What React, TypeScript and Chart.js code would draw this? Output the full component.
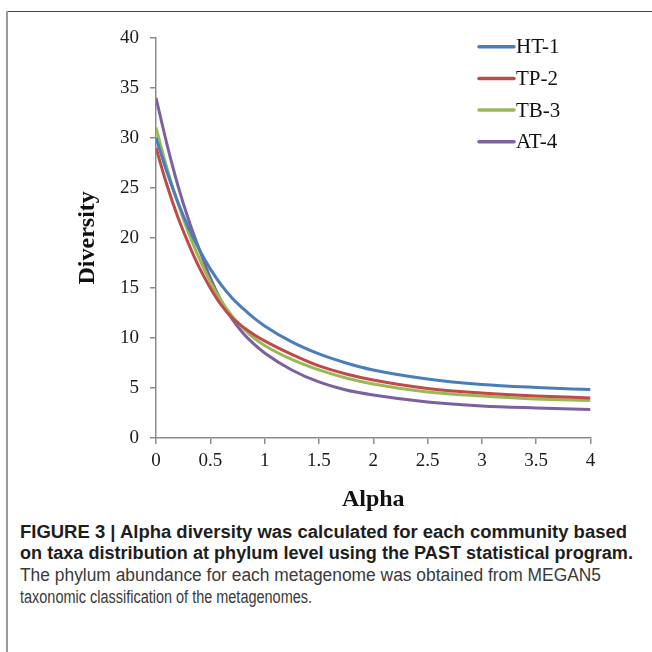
import React, { useEffect, useRef } from "react";
import { Chart, registerables } from "chart.js";

Chart.register(...registerables);

// ---- Data ----
const alphaValues = [0, 0.1, 0.2, 0.3, 0.4, 0.5, 0.6, 0.7, 0.8, 0.9, 1.0, 1.25, 1.5, 1.75, 2, 2.5, 3, 3.5, 4];
const seriesLabels = ["HT-1", "TP-2", "TB-3", "AT-4"];
const ht1 = [30, 26.6, 23.6, 21.0, 18.8, 16.9, 15.3, 14.0, 12.95, 12.0, 11.2, 9.6, 8.4, 7.5, 6.8, 5.9, 5.35, 5.05, 4.84];
const tp2 = [29, 25.3, 22.1, 19.4, 17.0, 15.0, 13.3, 12.0, 11.1, 10.35, 9.7, 8.35, 7.2, 6.4, 5.8, 4.95, 4.5, 4.2, 4.0];
const tb3 = [31, 27.0, 23.5, 20.5, 17.9, 15.6, 13.7, 12.2, 11.0, 10.0, 9.25, 7.85, 6.8, 6.0, 5.4, 4.6, 4.2, 3.9, 3.75];
const at4 = [34, 29.4, 25.3, 21.8, 18.8, 16.0, 13.7, 11.9, 10.5, 9.4, 8.5, 6.8, 5.6, 4.8, 4.3, 3.6, 3.2, 3.0, 2.85];
const seriesValues = [ht1, tp2, tb3, at4];
const seriesColors = ["#4A7EBB", "#BE4B48", "#98B954", "#7D60A0"];

const xAxisTitle = "Alpha";
const yAxisTitle = "Diversity";

const captionLines = [
  { text: "FIGURE 3 | Alpha diversity was calculated for each community based", bold: true },
  { text: "on taxa distribution at phylum level using the PAST statistical program.", bold: true },
  { text: "The phylum abundance for each metagenome was obtained from MEGAN5", bold: false },
  { text: "taxonomic classification of the metagenomes.", bold: false },
];
const captionCenters = [532, 553, 575, 597];
const captionWidths = [607, 613, 581, 292];

const SERIF = "'Liberation Serif', 'Times New Roman', serif";

const legendPlugin = {
  id: "insideLegend",
  afterDatasetsDraw(chart: any) {
    const { ctx, chartArea } = chart;
    ctx.save();
    chart.data.datasets.forEach((ds: any, i: number) => {
      const y = chartArea.top + 9 + i * 31.7;
      const x0 = chartArea.right - 111.5;
      ctx.strokeStyle = ds.borderColor;
      ctx.lineWidth = 3.5;
      ctx.lineCap = "round";
      ctx.beginPath();
      ctx.moveTo(x0, y);
      ctx.lineTo(x0 + 35, y);
      ctx.stroke();
      ctx.fillStyle = "#111";
      ctx.font = `21px ${SERIF}`;
      ctx.textBaseline = "middle";
      ctx.textAlign = "left";
      ctx.fillText(ds.label, x0 + 37, y + 1);
    });
    ctx.restore();
  },
};

export default function App() {
  const canvasRef = useRef<HTMLCanvasElement>(null);
  const lineRefs = useRef<(HTMLSpanElement | null)[]>([]);

  useEffect(() => {
    lineRefs.current.forEach((el, i) => {
      if (!el) return;
      el.style.transform = "none";
      const w = el.getBoundingClientRect().width;
      if (w > 0) el.style.transform = `scaleX(${captionWidths[i] / w})`;
    });
  }, []);

  useEffect(() => {
    if (!canvasRef.current) return;
    const chart = new Chart(canvasRef.current, {
      type: "line",
      data: {
        datasets: seriesLabels.map((label, i) => ({
          label,
          data: alphaValues.map((a, j) => ({ x: a, y: seriesValues[i][j] })),
          borderColor: seriesColors[i],
          backgroundColor: seriesColors[i],
          borderWidth: 3,
          pointRadius: 0,
          cubicInterpolationMode: "monotone" as const,
          fill: false,
        })),
      },
      options: {
        animation: false,
        responsive: false,
        maintainAspectRatio: false,
        layout: { padding: { left: 0, right: 61.5, top: 37.7, bottom: 0 } },
        plugins: { legend: { display: false }, tooltip: { enabled: false } },
        scales: {
          x: {
            type: "linear",
            min: 0,
            max: 4,
            ticks: {
              stepSize: 0.5,
              padding: 6,
              color: "#1a1a1a",
              font: { family: SERIF, size: 19 },
              maxRotation: 0,
              callback: (v: any) => String(Number(v)),
            },
            grid: { display: true, drawOnChartArea: false, drawTicks: true, tickLength: 6, color: "#8c8c8c", lineWidth: 1.5 },
            border: { display: true, color: "#8c8c8c", width: 1.5 },
            title: {
              display: true,
              text: xAxisTitle,
              color: "#111",
              font: { family: SERIF, size: 24, weight: "bold" },
              padding: { top: 0, bottom: 5.6 },
            },
            afterFit: (s: any) => {
              s.height = 82;
            },
          },
          y: {
            type: "linear",
            min: 0,
            max: 40,
            ticks: {
              stepSize: 5,
              padding: 11,
              color: "#1a1a1a",
              font: { family: SERIF, size: 19 },
              callback: (v: any) => String(Number(v)),
            },
            grid: { display: true, drawOnChartArea: false, drawTicks: true, tickLength: 6, color: "#8c8c8c", lineWidth: 1.5 },
            border: { display: true, color: "#8c8c8c", width: 1.5 },
            title: {
              display: true,
              text: yAxisTitle,
              color: "#111",
              font: { family: SERIF, size: 24, weight: "bold" },
              padding: { top: 73.6, bottom: 0 },
            },
            afterFit: (s: any) => {
              s.width = 156;
            },
          },
        },
      },
      plugins: [legendPlugin],
    });
    return () => chart.destroy();
  }, []);

  return (
    <div style={{ position: "absolute", left: 0, top: 0, width: 652, height: 652, background: "#fff", overflow: "hidden" }}>
      <canvas ref={canvasRef} width={652} height={520} style={{ position: "absolute", left: 0, top: 0, width: 652, height: 520 }} />
      <div style={{ position: "absolute", left: 7, top: 11, width: 645, height: 1, background: "#444" }} />
      <div style={{ position: "absolute", left: 6, top: 11, width: 2, height: 641, background: "#9a9a9a" }} />
      {captionLines.map((l, i) => (
        <span
          key={i}
          ref={(el) => {
            lineRefs.current[i] = el;
          }}
          style={{
            position: "absolute",
            left: 20,
            top: captionCenters[i] - 11,
            height: 22,
            lineHeight: "22px",
            fontSize: 18,
            fontFamily: "'Liberation Sans', Arial, sans-serif",
            fontWeight: l.bold ? 700 : 400,
            color: l.bold ? "#1e1e1e" : "#3a3a3a",
            whiteSpace: "nowrap",
            transformOrigin: "left center",
            display: "inline-block",
          }}
        >
          {l.text}
        </span>
      ))}
    </div>
  );
}
